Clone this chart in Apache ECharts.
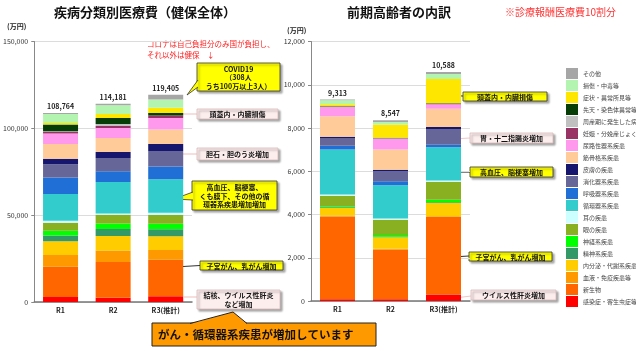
<!DOCTYPE html>
<html>
<head>
    <meta charset="utf-8">
    <title>疾病分類別医療費</title>
    <script src="https://cdn.jsdelivr.net/npm/echarts@6/dist/echarts.min.js"></script>
    <style>
        body { margin: 0; background: #fff; }
        #chart { width: 636px; height: 351px; }
    </style>
</head>
<body>
    <div id="chart"></div>

    <script>
        // 年度
        var categories = ['R1', 'R2', 'R3(推計)'];

        // 疾病分類（積み上げの下から順）
        var diseases = [
            '感染症・寄生虫症等', '新生物', '血液・免疫疾患等', '内分泌・代謝系疾患',
            '精神系疾患', '神経系疾患', '眼の疾患', '耳の疾患', '循環器系疾患',
            '呼吸器系疾患', '消化器系疾患', '皮膚の疾患', '筋骨格系疾患',
            '尿路性器系疾患', '妊娠・分娩産じょく', '周産期に発生した病態',
            '先天・染色体異常等', '症状・異常所見等', '損傷・中毒等', 'その他'
        ];

        // 健保全体（万円）
        var allR1 = [2850, 17400, 6780, 7910, 3390, 2650, 4720, 1130, 15430, 9430, 7570, 3200, 8480, 6030, 1130, 290, 3770, 940, 5090, 570];
        var allR2 = [2500, 20490, 6700, 8250, 4030, 3260, 4990, 770, 18100, 6140, 7680, 3450, 8060, 5760, 1150, 1150, 3450, 2300, 4990, 960];
        var allR3 = [3260, 21100, 5570, 7870, 4030, 3260, 4990, 1340, 19190, 7480, 8830, 4030, 8440, 6520, 1540, 0, 1340, 3070, 4800, 2745];
        var allTotals = [108764, 114181, 119405];

        // 前期高齢者（万円）
        var oldR1 = [80, 3830, 40, 354, 30, 46, 490, 60, 2075, 170, 338, 77, 952, 430, 15, 0, 20, 92, 184, 30];
        var oldR2 = [80, 2304, 30, 538, 20, 77, 706, 60, 1536, 184, 476, 60, 937, 492, 15, 10, 20, 614, 123, 77];
        var oldR3 = [300, 3580, 40, 614, 30, 115, 830, 60, 1536, 123, 722, 92, 845, 215, 20, 0, 20, 1121, 230, 95];
        var oldTotals = [9313, 8547, 10588];

        // 色（diseases と同じ順）
        var palette = [
            '#ff0000', '#ff6600', '#ff9900', '#ffcc00', '#339966', '#00ff00',
            '#88b020', '#ccffff', '#33cccc', '#1f6fd6', '#666699', '#16166e',
            '#ffcc99', '#ff99ee', '#993366', '#c0c0c0', '#063d06', '#ffe600',
            '#b3f5b0', '#a6a6a6'
        ];

        var FONT = '"Noto Sans CJK JP", sans-serif';

        function fmt(v) {
            return Number(v).toLocaleString('en-US');
        }

        function buildSeries(stack, axisIndex, r1, r2, r3, totals) {
            var list = [];
            diseases.forEach(function(name, i) {
                var s = {
                    name: name,
                    type: 'bar',
                    stack: stack,
                    xAxisIndex: axisIndex,
                    yAxisIndex: axisIndex,
                    barWidth: 35,
                    data: [r1[i], r2[i], r3[i]],
                    itemStyle: { color: palette[i] },
                    emphasis: { disabled: true }
                };
                if (i === diseases.length - 1) {
                    s.label = {
                        show: true,
                        position: 'top',
                        distance: 3,
                        fontSize: 7,
                        fontWeight: 'bold',
                        color: '#222',
                        fontFamily: FONT,
                        formatter: function(p) { return fmt(totals[p.dataIndex]); }
                    };
                }
                list.push(s);
            });
            return list;
        }

        // 吹き出し
        function callout(x, y, w, h, text, fill, stroke) {
            return {
                type: 'group',
                x: x,
                y: y,
                children: [
                    {
                        type: 'rect',
                        shape: { x: 0, y: 0, width: w, height: h },
                        style: {
                            fill: fill, stroke: stroke, lineWidth: 0.8,
                            shadowBlur: 2, shadowOffsetX: 2, shadowOffsetY: 2,
                            shadowColor: 'rgba(0,0,0,0.35)'
                        }
                    },
                    {
                        type: 'text',
                        style: {
                            text: text, x: w / 2, y: h / 2 + 0.5,
                            align: 'center', verticalAlign: 'middle',
                            fill: '#111', lineHeight: 8.5,
                            font: 'bold 7px ' + FONT
                        }
                    }
                ]
            };
        }

        function stub(x1, y1, x2, y2, color) {
            return {
                type: 'line',
                shape: { x1: x1, y1: y1, x2: x2, y2: y2 },
                style: { stroke: color, lineWidth: 1.2 }
            };
        }

        function tail(points, fill, stroke) {
            return [
                { type: 'polygon', shape: { points: points }, style: { fill: fill } },
                { type: 'polyline', shape: { points: points }, style: { stroke: stroke, lineWidth: 0.8, fill: null } }
            ];
        }

        var YELLOW = '#ffff00', PINK = '#fdeeee';

        var graphics = [];
        // 左グラフの注記
        graphics.push({
            type: 'text',
            style: {
                text: 'コロナは自己負担分のみ国が負担し、\nそれ以外は健保　↓',
                x: 147, y: 39, fill: '#ff2020', lineHeight: 11,
                font: '7.5px ' + FONT
            }
        });
        graphics.push(callout(197, 63, 83, 28, 'COVID19\n（308人\nうち100万以上3人）', YELLOW, '#333'));
        graphics = graphics.concat(tail([[198, 80], [187, 95], [198, 87]], YELLOW, '#333'));
        graphics.push(stub(183, 114, 197, 114, '#f3c6c6'));
        graphics.push(callout(197, 109, 81, 10, '頭蓋内・内臓損傷', PINK, '#d8b8b8'));
        graphics.push(stub(178, 154, 197, 154, '#f3c6c6'));
        graphics.push(callout(197, 148, 81, 12, '胆石・胆のう炎増加', PINK, '#d8b8b8'));
        graphics.push(callout(192, 181, 85, 29, '高血圧、脳梗塞、\nくも膜下、その他の循\n環器系疾患増加増加', YELLOW, '#333'));
        graphics = graphics.concat(tail([[193, 192], [174, 199], [193, 200]], YELLOW, '#333'));
        graphics.push(stub(183, 266.5, 200, 265.5, '#333'));
        graphics.push(callout(200, 261, 83, 9, '子宮がん、乳がん増加', YELLOW, '#333'));
        graphics.push(stub(184, 297, 197, 297, '#f3c6c6'));
        graphics.push(callout(197, 290, 83, 19, '結核、ウイルス性肝炎\nなど増加', PINK, '#d8b8b8'));

        // まとめの帯
        graphics.push({
            type: 'rect',
            shape: { x: 152, y: 323, width: 224, height: 23 },
            style: { fill: '#ff9900', stroke: '#222', lineWidth: 1 }
        });
        graphics.push({ type: 'polygon', shape: { points: [[190, 324], [233, 312], [247, 324]] }, style: { fill: '#ff9900' } });
        graphics.push({ type: 'polyline', shape: { points: [[190, 323.5], [233, 312], [247, 323.5]] }, style: { stroke: '#222', lineWidth: 1, fill: null } });
        graphics.push({
            type: 'text',
            style: {
                text: 'がん・循環器系疾患が増加しています',
                x: 158, y: 334.5, verticalAlign: 'middle', fill: '#111',
                font: 'bold 11.5px ' + FONT
            }
        });

        // 右グラフの注記
        graphics.push(stub(430, 95, 463, 96, '#333'));
        graphics.push(callout(463, 92, 84, 9, '頭蓋内・内臓損傷', YELLOW, '#333'));
        graphics.push(stub(452, 139, 470, 138, '#f3c6c6'));
        graphics.push(callout(470, 133, 83, 10, '胃・十二指腸炎増加', PINK, '#d8b8b8'));
        graphics.push(stub(452, 172, 470, 172, '#333'));
        graphics.push(callout(470, 167, 83, 10, '高血圧、脳梗塞増加', YELLOW, '#333'));
        graphics.push(stub(452, 257, 469, 256, '#333'));
        graphics.push(callout(469, 252, 83, 9, '子宮がん、乳がん増加', YELLOW, '#333'));
        graphics.push(stub(455, 298, 471, 296, '#f3c6c6'));
        graphics.push(callout(471, 290, 85, 10, 'ウイルス性肝炎増加', PINK, '#d8b8b8'));

        // 単位
        graphics.push({ type: 'text', style: { text: '(万円)', x: 7, y: 26, verticalAlign: 'middle', fill: '#222', font: 'bold 7px ' + FONT } });
        graphics.push({ type: 'text', style: { text: '(万円)', x: 287, y: 30, verticalAlign: 'middle', fill: '#222', font: 'bold 7px ' + FONT } });

        function yAxisOf(gridIndex, max, interval) {
            return {
                type: 'value',
                gridIndex: gridIndex,
                min: 0,
                max: max,
                interval: interval,
                axisLine: { show: true, lineStyle: { color: '#888' } },
                axisTick: { show: true, length: 3, lineStyle: { color: '#888' } },
                splitLine: { show: true, lineStyle: { color: '#dcdcdc' } },
                axisLabel: { fontSize: 7, color: '#333', margin: 6, fontFamily: FONT, formatter: fmt }
            };
        }

        function xAxisOf(gridIndex) {
            return {
                type: 'category',
                gridIndex: gridIndex,
                data: categories,
                axisLine: { show: true, lineStyle: { color: '#777', width: 1.5 } },
                axisTick: { show: false },
                axisLabel: { fontSize: 7, fontWeight: 'bold', color: '#222', margin: 5, fontFamily: FONT }
            };
        }

        var option = {
            animation: false,
            backgroundColor: '#fff',
            textStyle: { fontFamily: FONT },
            title: [
                {
                    text: '疾病分類別医療費（健保全体）',
                    left: 140, top: 1, textAlign: 'center',
                    textStyle: { fontSize: 13, fontWeight: 'bold', color: '#111', fontFamily: FONT }
                },
                {
                    text: '前期高齢者の内訳',
                    left: 394, top: 1, textAlign: 'center',
                    textStyle: { fontSize: 13, fontWeight: 'bold', color: '#111', fontFamily: FONT }
                },
                {
                    text: '※診療報酬医療費10割分',
                    left: 500, top: 2,
                    textStyle: { fontSize: 10, fontWeight: 'normal', color: '#ff3333', fontFamily: FONT }
                }
            ],
            legend: {
                orient: 'vertical',
                left: 561,
                top: 63,
                itemWidth: 12,
                itemHeight: 11,
                itemGap: 1,
                icon: 'rect',
                selectedMode: false,
                data: diseases.slice().reverse(),
                textStyle: { fontSize: 6, color: '#444', fontFamily: FONT }
            },
            grid: [
                { left: 32, top: 41.5, width: 160, height: 260.5 },
                { left: 311, top: 41.5, width: 159, height: 259.5 }
            ],
            xAxis: [xAxisOf(0), xAxisOf(1)],
            yAxis: [yAxisOf(0, 150000, 50000), yAxisOf(1, 12000, 2000)],
            series: buildSeries('all', 0, allR1, allR2, allR3, allTotals)
                .concat(buildSeries('old', 1, oldR1, oldR2, oldR3, oldTotals)),
            graphic: graphics
        };

        var myChart = echarts.init(document.getElementById('chart'));
        myChart.setOption(option);
    </script>
</body>
</html>
